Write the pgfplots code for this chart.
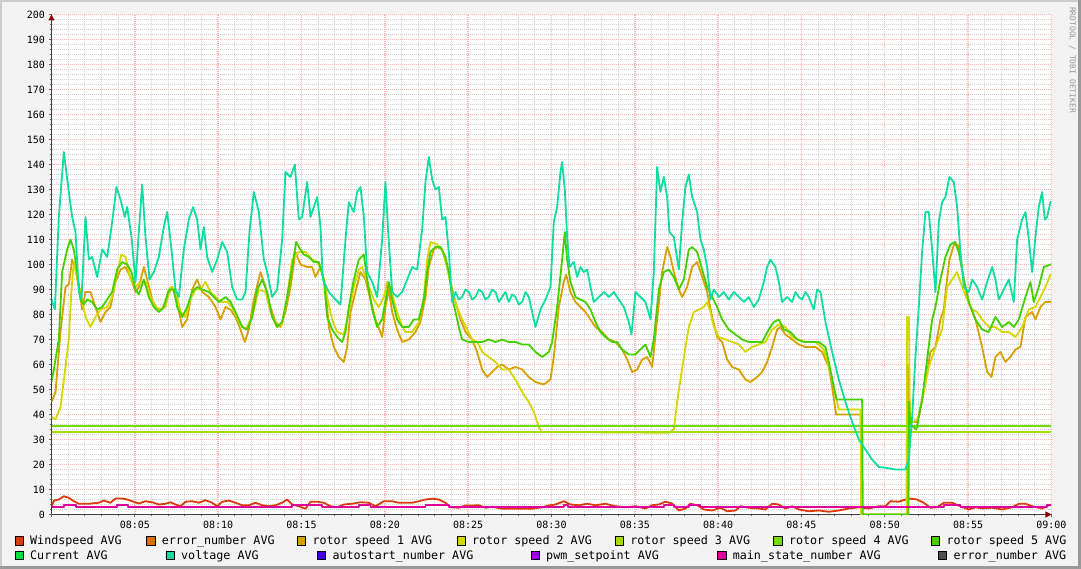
\documentclass[border=0pt]{standalone}
\usepackage{pgfplots}
\pgfplotsset{compat=1.18}
\usepackage{fontspec}
\setmainfont{DejaVu Sans Mono}
\usetikzlibrary{arrows.meta}
\definecolor{bgc}{HTML}{F3F3F3}
\definecolor{cWind}{HTML}{DD3A0A}
\definecolor{cErr}{HTML}{D87000}
\definecolor{cR1}{HTML}{D8A000}
\definecolor{cR2}{HTML}{D6D600}
\definecolor{cR3}{HTML}{A4DC00}
\definecolor{cR4}{HTML}{74DC00}
\definecolor{cR5}{HTML}{44D000}
\definecolor{cCur}{HTML}{00E040}
\definecolor{cVolt}{HTML}{10DDA0}
\definecolor{cAuto}{HTML}{4000E0}
\definecolor{cPwm}{HTML}{A000E0}
\definecolor{cMain}{HTML}{E000A0}
\definecolor{cErr2}{HTML}{505050}
\newcommand\lgfont{\fontsize{11.7}{12}\selectfont}
\newcommand\lgentry[4]{%
  \draw[fill=#3, draw=black, line width=0.8pt] (#1,#2) rectangle ++(8.3,8.3);
  \node[anchor=base west, inner sep=0pt, font=\lgfont] at (#1+15,#2) {#4};}
\begin{document}
\begin{tikzpicture}[x=1pt,y=1pt]
\fill[bgc] (0,0) rectangle (1081,569);
\useasboundingbox (0,0) rectangle (1081,569);
\fill[black!20] (0,567) rectangle (1081,569);
\fill[black!20] (0,0) rectangle (2,569);
\fill[black!40] (1078,0) rectangle (1081,569);
\fill[black!40] (0,0) rectangle (1081,3);
\fill[white] (51.5,54.5) rectangle (1051.5,554.5);
\begin{axis}[at={(51.5pt,54.5pt)}, anchor=south west,
  scale only axis, width=1000pt, height=500pt,
  xmin=0, xmax=60, ymin=0, ymax=200,
  axis lines=left,
  axis line style={draw=black!75, line width=1pt, -{Triangle[length=6pt,width=6pt,color=red!55!black]}},
  xtick={0,5,...,60},
  xticklabels={,08:05,08:10,08:15,08:20,08:25,08:30,08:35,08:40,08:45,08:50,08:55,09:00},
  minor x tick num=4,
  ytick={0,10,...,200},
  minor y tick num=4,
  grid=both,
  major y grid style={draw=red!30, dash pattern=on 1pt off 1pt, line width=1pt},
  major x grid style={draw=red!30, dash pattern=on 1pt off 1pt, line width=1.4pt},
  minor y grid style={draw=black!18, dash pattern=on 1pt off 1pt, line width=1pt},
  minor x grid style={draw=black!16, dash pattern=on 1pt off 1pt, line width=1.2pt},
  tick style={draw=black!60, line width=0.8pt},
  major tick length=3pt, minor tick length=2pt,
  tick align=outside,
  tick label style={font=\fontsize{10}{11}\selectfont},
  /pgf/number format/assume math mode=true,
  every axis plot/.append style={mark=none, line width=1.8pt, line join=round},
]
% Windspeed
\addplot[color=cWind] coordinates {
(0,3.3)(0.16,5.6)(0.44,6)(0.74,7.3)(1.04,6.7)(1.34,5.3)(1.64,4.3)(2.24,4.3)(2.84,4.7)(3.14,5.6)(3.54,4.7)(3.84,6.4)(4.24,6.4)(4.54,6)(4.84,5.3)(5.24,4.4)(5.64,5.3)(6.04,4.9)(6.44,4)(6.84,4.3)(7.14,4.9)(7.44,4)(7.74,3.3)(8.04,5.1)(8.44,5.3)(8.84,4.7)(9.24,5.7)(9.64,4.7)(9.94,3.3)(10.24,5.1)(10.64,5.6)(11.04,4.7)(11.44,3.7)(11.84,3.7)(12.24,4.7)(12.64,3.7)(13.04,3.3)(13.44,3.7)(13.84,4.7)(14.14,6)(14.44,4)(14.84,3.3)(15.24,2.3)(15.54,5.1)(15.94,5.1)(16.34,4.7)(16.74,3.3)(17.14,2.9)(17.54,4)(18.04,4.3)(18.54,4.9)(19.04,4.7)(19.44,3.3)(19.94,5.3)(20.44,5.3)(20.84,4.7)(21.24,4.7)(21.64,4.7)(22.04,5.3)(22.44,6)(22.84,6.3)(23.24,6)(23.64,4.7)(23.94,2.9)(24.44,2.7)(24.84,3.6)(25.24,3.6)(25.64,3.7)(26.04,2.7)(26.44,3.1)(27.04,2.3)(28.04,2.3)(28.84,2.3)(29.44,2.9)(29.84,3.6)(30.24,4)(30.74,5.3)(31.14,4)(31.64,3.7)(32.14,4.3)(32.64,3.7)(33.24,4.3)(33.84,3.3)(34.44,2.9)(35.04,3.3)(35.64,2.4)(36.04,3.7)(36.44,4)(36.84,5.1)(37.24,4.4)(37.64,1.6)(38.04,2.4)(38.34,4.3)(38.74,3.7)(39.14,2)(39.64,1.6)(40.14,2.7)(40.54,1.3)(41.04,1.6)(41.34,3.3)(41.84,2.7)(42.44,2.4)(42.84,2)(43.24,4.3)(43.64,4)(44.04,2.4)(44.44,3.3)(44.84,2)(45.44,1.3)(46.04,1.6)(46.64,1.1)(47.24,1.6)(47.84,2.4)(48.44,2.9)(49.04,2.4)(49.64,3.3)(50.04,3.3)(50.34,5.3)(50.84,5.1)(51.44,6.4)(51.94,6)(52.34,4.7)(52.74,2.7)(53.14,2.9)(53.54,4.7)(54.04,4.7)(54.54,3.3)(55.04,2)(55.44,2.9)(55.84,2.4)(56.44,2.7)(57.04,2)(57.64,2.9)(58.04,4.3)(58.44,4.3)(58.84,3.3)(59.44,2.4)(59.84,3.7)(60,3.7)
};
% rotor speed 1
\addplot[color=cR1] coordinates {
(0,45)(0.24,49)(0.54,73)(0.84,91)(1.04,92)(1.24,102)(1.44,98)(1.64,91)(1.84,82)(2.04,89)(2.34,89)(2.64,83)(2.94,77)(3.24,81)(3.54,83)(3.84,93)(4.14,98)(4.44,99)(4.74,95)(5.04,89)(5.24,91)(5.54,99)(5.74,94)(6.04,86)(6.34,82)(6.64,82)(6.94,87)(7.24,91)(7.54,85)(7.84,75)(8.14,78)(8.44,90)(8.74,94)(9.04,89)(9.44,87)(9.84,83)(10.14,78)(10.44,83)(10.74,82)(11.04,79)(11.34,74)(11.6,69)(11.84,74)(12.14,86)(12.54,97)(12.84,91)(13.14,83)(13.44,77)(13.74,75)(14.04,81)(14.34,91)(14.64,105)(14.94,100)(15.34,99)(15.64,99)(15.84,95)(16.14,99)(16.44,91)(16.64,75)(16.94,67)(17.24,63)(17.54,61)(17.74,67)(17.94,81)(18.24,89)(18.54,97)(18.84,94)(19.14,86)(19.44,78)(19.84,71)(20.04,83)(20.24,90)(20.44,81)(20.74,74)(21.04,69)(21.44,70)(21.84,73)(22.14,77)(22.44,87)(22.64,99)(22.94,106)(23.14,107)(23.44,106)(23.74,99)(23.94,93)(24.24,85)(24.54,78)(24.84,73)(25.24,70)(25.54,65)(25.84,58)(26.14,55)(26.44,57)(26.74,59)(27.04,60)(27.44,58)(27.84,59)(28.24,58)(28.64,55)(29.04,53)(29.54,52)(29.94,54)(30.14,63)(30.44,83)(30.74,93)(30.88,96)(31.14,89)(31.44,85)(31.74,83)(32.04,81)(32.34,78)(32.64,75)(33.04,73)(33.44,70)(33.84,69)(34.24,66)(34.54,62)(34.84,57)(35.14,58)(35.44,62)(35.74,63)(36.04,59)(36.34,78)(36.64,97)(36.94,107)(37.14,103)(37.34,97)(37.64,90)(37.84,87)(38.14,91)(38.44,99)(38.74,101)(39.04,95)(39.34,89)(39.64,79)(39.94,71)(40.24,69)(40.54,62)(40.84,59)(41.24,58)(41.64,54)(41.94,53)(42.34,55)(42.64,57)(42.94,61)(43.24,67)(43.54,74)(43.74,75)(44.04,72)(44.44,70)(44.84,68)(45.24,67)(45.84,67)(46.24,65)(46.64,59)(46.84,51)(47.08,40)(48.56,40)(48.6,0)(51.35,0)(51.4,60)(51.5,37)(51.94,37)(52.24,46)(52.54,57)(52.74,65)(53.04,67)(53.34,78)(53.54,82)(53.68,91)(53.88,102)(54.2,109)(54.44,107)(54.74,94)(55.04,85)(55.44,78)(55.84,67)(56.14,57)(56.4,55)(56.64,63)(56.94,65)(57.24,61)(57.54,63)(57.84,66)(58.14,67)(58.44,79)(58.84,81)(59.04,78)(59.34,83)(59.64,85)(59.94,85)(60,85)
};
% rotor speed 2
\addplot[color=cR2] coordinates {
(0,39)(0.24,38)(0.54,43)(0.8,57)(1.04,70)(1.2,90)(1.34,101)(1.54,95)(1.74,89)(2.04,79)(2.34,75)(2.64,79)(2.94,82)(3.34,83)(3.64,87)(3.94,97)(4.2,104)(4.44,103)(4.74,94)(5.04,91)(5.34,93)(5.64,93)(5.94,87)(6.24,83)(6.54,82)(6.84,83)(7.14,91)(7.44,90)(7.74,81)(8.04,79)(8.34,86)(8.64,90)(8.94,90)(9.24,93)(9.54,89)(9.84,87)(10.14,85)(10.54,85)(10.84,83)(11.24,77)(11.64,74)(12.04,79)(12.44,90)(12.84,89)(13.14,81)(13.54,75)(13.84,76)(14.14,87)(14.44,102)(14.84,105)(15.24,105)(15.64,102)(15.94,101)(16.24,97)(16.54,87)(16.84,78)(17.14,73)(17.54,72)(17.84,81)(18.14,91)(18.44,98)(18.64,99)(18.94,93)(19.34,86)(19.64,83)(19.94,87)(20.14,93)(20.34,91)(20.64,83)(20.94,77)(21.24,73)(21.64,73)(22.04,77)(22.34,87)(22.54,102)(22.74,109)(23.14,108)(23.44,106)(23.74,99)(24.04,89)(24.34,83)(24.64,78)(24.94,74)(25.24,70)(25.54,69)(25.84,65)(26.24,63)(26.64,61)(27.04,58)(27.44,58)(27.84,54)(28.24,49)(28.64,45)(28.94,41)(29.24,35)(29.4,33)(37.04,32.7)(37.34,34)(37.54,45)(37.74,54)(38.04,67)(38.24,75)(38.54,81)(38.84,82)(39.14,83)(39.34,85)(39.54,81)(39.74,75)(40.04,71)(40.44,70)(40.84,69)(41.24,68)(41.64,65)(42.04,67)(42.44,68)(42.84,69)(43.24,74)(43.64,76)(44.04,75)(44.44,71)(44.84,70)(45.24,69)(45.84,69)(46.34,66)(46.64,59)(46.94,51)(47.24,42)(48.54,42)(48.58,0)(51.3,0)(51.33,79)(51.45,79)(51.5,37)(51.74,37)(52.04,39)(52.34,49)(52.64,59)(53.04,67)(53.44,74)(53.74,91)(54.04,94)(54.34,97)(54.64,91)(54.94,86)(55.24,82)(55.54,81)(55.84,78)(56.24,75)(56.64,75)(57.04,73)(57.44,73)(57.84,71)(58.24,75)(58.64,82)(59.04,83)(59.34,87)(59.64,91)(59.94,96)(60,96)
};
% rotor speed 3 and 4
\addplot[color=cR3] coordinates {(0,33)(60,33)};
\addplot[color=cR4] coordinates {(0,35.3)(60,35.3)};
% rotor speed 5
\addplot[color=cR5] coordinates {
(0,53)(0.14,58)(0.44,70)(0.64,97)(0.94,106)(1.14,110)(1.34,106)(1.54,97)(1.74,86)(1.94,84)(2.14,86)(2.44,85)(2.74,82)(3.04,83)(3.34,86)(3.64,89)(3.94,98)(4.24,101)(4.54,100)(4.8,97)(5.04,90)(5.24,88)(5.54,94)(5.84,87)(6.14,83)(6.44,81)(6.74,83)(7.04,90)(7.34,90)(7.54,83)(7.84,79)(8.14,83)(8.44,89)(8.74,91)(9.04,90)(9.44,89)(9.74,87)(10.04,85)(10.44,87)(10.74,85)(11.04,81)(11.44,75)(11.74,74)(12.04,79)(12.34,90)(12.64,94)(12.94,89)(13.24,79)(13.54,75)(13.84,77)(14.14,87)(14.44,99)(14.68,109)(14.94,106)(15.14,104)(15.44,103)(15.74,101)(16.04,101)(16.34,94)(16.54,79)(16.84,74)(17.14,71)(17.44,69)(17.64,73)(17.84,83)(18.14,94)(18.44,102)(18.74,104)(18.94,94)(19.24,82)(19.54,75)(19.84,78)(20.08,87)(20.24,93)(20.44,86)(20.74,78)(21.04,75)(21.44,75)(21.74,78)(22.04,78)(22.34,86)(22.54,97)(22.74,105)(23.04,107)(23.34,107)(23.64,103)(23.84,97)(24.04,87)(24.24,81)(24.44,75)(24.64,70)(25.04,69)(25.44,69)(25.84,69)(26.24,70)(26.64,69)(27.04,70)(27.44,69)(27.84,69)(28.24,68)(28.64,68)(29.04,65)(29.44,63)(29.84,65)(30.04,69)(30.34,83)(30.64,102)(30.8,113)(30.94,102)(31.14,93)(31.44,87)(31.74,86)(32.04,85)(32.34,82)(32.64,77)(32.94,73)(33.24,71)(33.64,69)(33.94,69)(34.24,66)(34.64,64)(35.04,64)(35.34,66)(35.64,68)(35.94,63)(36.14,70)(36.44,90)(36.74,97)(37.04,98)(37.34,95)(37.64,90)(37.94,94)(38.24,106)(38.44,107)(38.74,105)(39.04,98)(39.34,91)(39.64,87)(39.94,83)(40.24,78)(40.64,74)(41.04,72)(41.44,70)(41.84,69)(42.24,69)(42.64,69)(43.04,74)(43.34,77)(43.64,78)(43.94,74)(44.34,73)(44.74,70)(45.14,69)(45.64,69)(46.04,69)(46.44,67)(46.64,61)(46.94,51)(47.1,46)(48.64,46)(48.68,0)(51.42,0)(51.46,45)(51.52,36)(51.9,34)(52.24,46)(52.54,62)(52.84,78)(53.04,83)(53.34,94)(53.64,103)(53.94,108)(54.2,109)(54.44,105)(54.74,94)(55.04,85)(55.44,78)(55.84,74)(56.24,73)(56.64,79)(57.04,75)(57.44,77)(57.74,75)(58.04,78)(58.44,87)(58.74,93)(58.94,85)(59.24,91)(59.54,99)(59.94,100)(60,100)
};
% voltage
\addplot[color=cVolt] coordinates {
(0,86)(0.2,82)(0.44,119)(0.74,145)(1.0,131)(1.24,119)(1.44,113)(1.64,89)(1.8,86)(2.04,119)(2.24,102)(2.44,103)(2.74,95)(3.04,106)(3.34,103)(3.64,117)(3.9,131)(4.14,126)(4.4,119)(4.54,123)(4.8,111)(5.04,93)(5.24,113)(5.44,132)(5.64,111)(5.88,94)(6.14,97)(6.44,103)(6.74,115)(6.94,121)(7.2,106)(7.44,90)(7.64,87)(7.94,106)(8.24,118)(8.5,123)(8.74,118)(8.94,106)(9.14,115)(9.34,103)(9.64,97)(9.94,102)(10.24,109)(10.54,105)(10.84,91)(11.14,86)(11.44,86)(11.64,89)(11.88,113)(12.14,129)(12.44,121)(12.74,102)(12.94,97)(13.24,87)(13.54,90)(13.84,110)(14.04,137)(14.34,135)(14.6,140)(14.84,118)(15.04,119)(15.34,133)(15.54,119)(15.74,123)(15.94,127)(16.14,115)(16.28,94)(16.64,89)(17.04,86)(17.34,84)(17.64,110)(17.84,125)(18.14,121)(18.34,129)(18.54,131)(18.74,119)(18.94,97)(19.24,93)(19.54,87)(19.84,110)(20.04,133)(20.2,113)(20.44,89)(20.74,87)(21.04,89)(21.34,94)(21.64,99)(21.94,98)(22.24,114)(22.44,133)(22.64,143)(22.84,134)(23.04,130)(23.24,131)(23.44,118)(23.64,119)(23.84,105)(24.04,85)(24.24,89)(24.44,86)(24.64,87)(24.84,90)(25.04,89)(25.24,86)(25.44,87)(25.64,90)(25.84,89)(26.04,86)(26.24,87)(26.44,90)(26.64,89)(26.84,85)(27.04,87)(27.24,89)(27.44,85)(27.64,88)(27.84,87)(28.04,84)(28.24,85)(28.44,89)(28.64,87)(28.84,81)(29.04,75)(29.34,82)(29.64,86)(29.94,91)(30.14,117)(30.34,123)(30.54,137)(30.64,141)(30.8,130)(30.94,111)(31.08,99)(31.34,101)(31.54,95)(31.74,99)(31.94,97)(32.14,98)(32.34,91)(32.54,85)(32.84,87)(33.14,89)(33.44,87)(33.74,89)(34.04,86)(34.34,83)(34.64,77)(34.8,72)(35.04,89)(35.34,87)(35.64,85)(35.94,78)(36.14,97)(36.34,139)(36.54,129)(36.74,135)(36.94,127)(37.08,113)(37.34,111)(37.64,98)(37.84,117)(38.04,131)(38.24,136)(38.44,127)(38.74,121)(38.94,110)(39.14,106)(39.34,99)(39.54,86)(39.74,90)(40.04,87)(40.34,89)(40.64,86)(40.94,89)(41.24,87)(41.54,85)(41.84,87)(42.14,83)(42.44,86)(42.74,93)(42.94,99)(43.14,102)(43.44,99)(43.64,93)(43.84,85)(44.14,87)(44.44,85)(44.64,89)(44.84,87)(45.04,86)(45.24,89)(45.44,87)(45.74,82)(45.94,90)(46.14,89)(46.44,77)(46.84,65)(47.24,54)(47.64,45)(48.04,37)(48.44,30)(48.84,26)(49.24,22)(49.64,19)(50.04,18.7)(50.64,18)(51.24,18)(51.44,22)(51.64,39)(51.84,63)(52.04,83)(52.24,105)(52.44,121)(52.64,121)(52.84,106)(53.04,89)(53.24,117)(53.44,125)(53.64,127)(53.88,135)(54.14,133)(54.34,123)(54.54,105)(54.74,91)(55.04,89)(55.24,94)(55.54,91)(55.84,86)(56.14,93)(56.44,99)(56.64,94)(56.84,86)(57.14,90)(57.44,94)(57.74,85)(57.94,110)(58.24,118)(58.44,121)(58.64,110)(58.84,97)(59.04,111)(59.24,123)(59.44,129)(59.6,118)(59.74,119)(59.94,125)(60,125)
};
% main_state_number
\addplot[color=cMain, const plot] coordinates {
(0,3)(0.74,3.8)(1.48,3)(3.94,3.8)(4.6,3)(14.44,3.8)(16.24,3)(18.44,3.8)(19.14,3)(22.44,3.8)(23.84,3)(30.74,3.8)(31.0,3)(36.74,3.8)(37.34,3)(38.24,3.8)(38.94,3)(53.54,3.8)(54.54,3)(59.74,3.8)(60,3.8)
};
\end{axis}
% legend
\lgentry{15}{24}{cWind}{Windspeed AVG}
\lgentry{146.7}{24}{cErr}{error\_number AVG}
\lgentry{297.3}{24}{cR1}{rotor speed 1 AVG}
\lgentry{456.9}{24}{cR2}{rotor speed 2 AVG}
\lgentry{615.2}{24}{cR3}{rotor speed 3 AVG}
\lgentry{773.8}{24}{cR4}{rotor speed 4 AVG}
\lgentry{931.4}{24}{cR5}{rotor speed 5 AVG}
\lgentry{15}{9.7}{cCur}{Current AVG}
\lgentry{166}{9.7}{cVolt}{voltage AVG}
\lgentry{317.3}{9.7}{cAuto}{autostart\_number AVG}
\lgentry{531}{9.7}{cPwm}{pwm\_setpoint AVG}
\lgentry{717.6}{9.7}{cMain}{main\_state\_number AVG}
\lgentry{938.3}{9.7}{cErr2}{error\_number AVG}
\node[rotate=-90, anchor=center, inner sep=0pt, text=black!40, font=\fontsize{8}{8}\selectfont] at (1072.5,509) {RRDTOOL / TOBI OETIKER};
\end{tikzpicture}
\end{document}
